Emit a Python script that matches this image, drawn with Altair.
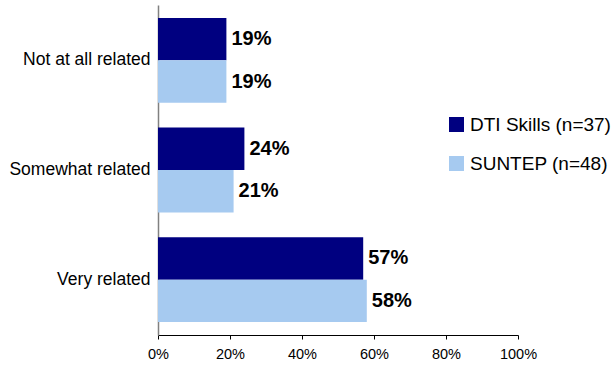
import altair as alt
import pandas as pd

categories = ["Not at all related", "Somewhat related", "Very related"]
series = ["DTI Skills (n=37)", "SUNTEP (n=48)"]
dti_values = [0.19, 0.24, 0.57]
suntep_values = [0.19, 0.21, 0.58]
colors = ["#000080", "#A6CAF0"]
x_ticks = [0, 0.2, 0.4, 0.6, 0.8, 1.0]

rows = []
for c, v in zip(categories, dti_values):
    rows.append({"category": c, "series": series[0], "value": v})
for c, v in zip(categories, suntep_values):
    rows.append({"category": c, "series": series[1], "value": v})
df = pd.DataFrame(rows)

FONT = "Liberation Sans"

y_enc = alt.Y("category:N", sort=categories,
              scale=alt.Scale(paddingInner=0.227, paddingOuter=0.118),
              axis=alt.Axis(title=None, ticks=False, domainColor="#808080",
                            domainWidth=1.5, labelFontSize=17.5, labelFont=FONT,
                            labelColor="#000000", labelPadding=8, labelLimit=200))
yoff = alt.YOffset("series:N", sort=series,
                   scale=alt.Scale(paddingInner=0, paddingOuter=0))
x_enc = alt.X("value:Q", scale=alt.Scale(domain=[0, 1]),
              axis=alt.Axis(title=None, values=x_ticks, format=".0%", grid=False,
                            domainColor="#000000", tickColor="#000000", tickSize=4,
                            labelFontSize=14.5, labelFont=FONT, labelColor="#000000",
                            labelPadding=8, labelFlush=False))

bars = alt.Chart(df).mark_bar().encode(
    y=y_enc, yOffset=yoff, x=x_enc,
    color=alt.Color("series:N", sort=series,
                    scale=alt.Scale(domain=series, range=colors),
                    legend=alt.Legend(title=None, orient="none", legendX=289, legendY=110,
                                      symbolType="square", symbolSize=225,
                                      symbolStrokeWidth=0, labelFontSize=19,
                                      labelFont=FONT, labelColor="#000000",
                                      labelOffset=4, rowPadding=19, padding=0,
                                      labelLimit=300))
)

labels = alt.Chart(df).mark_text(align="left", baseline="middle", dx=5,
                                 fontSize=20, fontWeight="bold", font=FONT,
                                 color="#000000").encode(
    y=alt.Y("category:N", sort=categories),
    yOffset=alt.YOffset("series:N", sort=series),
    x=alt.X("value:Q"),
    text=alt.Text("value:Q", format=".0%")
)

chart = alt.layer(bars, labels).properties(
    width=360, height=330,
    autosize=alt.AutoSizeParams(type="none"),
    padding={"left": 158, "top": 5, "right": 97, "bottom": 30},
    background="white"
).configure_view(stroke=None)

chart.save("out.html", embed_options={"renderer": "svg", "actions": False})
